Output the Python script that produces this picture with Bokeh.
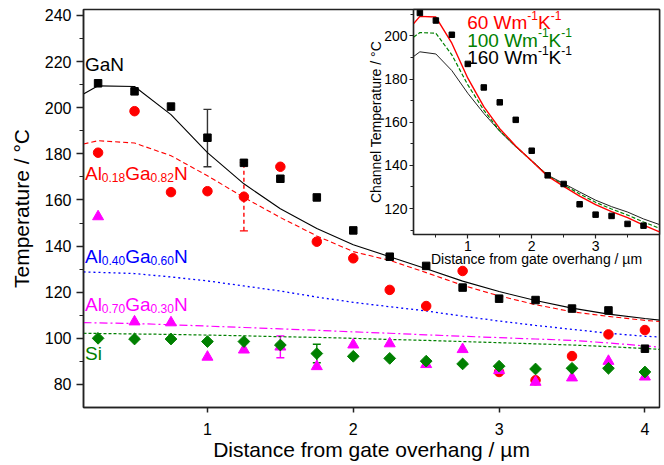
from bokeh.plotting import figure
from bokeh.models import Range1d, FixedTicker, Whisker, TeeHead, ColumnDataSource
from bokeh.embed import file_html
from bokeh.resources import INLINE
from bokeh.core.properties import value

FONT = "Liberation Sans"
RED, BLUE, MAGENTA, GREEN, BLACK = "#ff0000", "#0000ff", "#ff00ff", "#008000", "#000000"

# ---------------- data (main chart) ----------------
dist = [0.25, 0.5, 0.75, 1.0, 1.25, 1.5, 1.75, 2.0, 2.25, 2.5, 2.75, 3.0, 3.25, 3.5, 3.75, 4.0]
gan_pts = [210.6, 207.1, 200.5, 187.0, 176.1, 169.2, 161.1, 146.8, 135.4, 131.4, 122.0, 117.2, 116.6, 112.9, 112.1, 95.5]
al18_pts = [180.5, 198.5, 163.4, 163.8, 161.4, 174.4, 141.9, 134.7, 121.0, 114.0, 129.2, 85.4, 81.8, 92.3, 101.7, 103.6]
al70_pts = [152.8, 107.2, 106.8, 91.9, 95.0, 96.3, 87.8, 97.2, 97.7, 88.7, 95.2, 86.1, 81.0, 82.9, 90.1, 83.3]
si_pts = [100.0, 99.7, 99.7, 98.6, 98.6, 97.1, 93.4, 92.2, 91.3, 90.1, 88.9, 87.9, 86.7, 87.0, 87.0, 85.4]

line_x = [0.15, 0.25, 0.5, 0.75, 1.0, 1.25, 1.5, 1.75, 2.0, 2.25, 2.5, 2.75, 3.0, 3.25, 3.5, 3.75, 4.0, 4.1]
gan_line = [206.0, 209.5, 209.2, 197.0, 180.5, 167.0, 156.2, 147.6, 140.6, 135.4, 130.2, 124.8, 120.3, 116.4, 113.1, 110.5, 108.6, 107.9]
al18_line = [184.3, 185.7, 184.7, 179.2, 170.5, 161.1, 152.4, 144.4, 137.6, 133.8, 128.5, 123.0, 118.4, 114.6, 111.5, 109.5, 107.8, 107.3]
al40_line = [128.8, 128.6, 128.1, 126.6, 124.9, 122.7, 120.5, 117.9, 115.6, 113.7, 111.9, 109.6, 107.5, 105.6, 103.9, 102.2, 100.9, 100.6]
al70_line = [106.8, 106.7, 106.4, 105.9, 105.3, 104.7, 104.1, 103.5, 102.8, 102.2, 101.5, 100.9, 100.3, 99.7, 99.1, 98.0, 96.7, 96.2]
si_line = [102.2, 102.1, 101.9, 101.7, 101.4, 101.1, 100.7, 100.4, 100.0, 99.5, 99.1, 98.6, 98.1, 97.6, 97.1, 96.4, 95.6, 95.2]

gan_err_x, gan_err_lo, gan_err_hi = [1.0], [174.4], [199.3]
al18_err_x, al18_err_lo, al18_err_hi = [1.25], [146.6], [176.2]
al70_err_x, al70_err_lo, al70_err_hi = [1.5], [91.6], [101.0]
si_err_x, si_err_lo, si_err_hi = [1.75], [89.4], [97.4]

x_ticks = [1, 2, 3, 4]
y_ticks = [80, 100, 120, 140, 160, 180, 200, 220, 240]
y_minor = [90, 110, 130, 150, 170, 190, 210, 230]

# series labels: (text, is_subscript)
series_labels = [
    [("GaN", 0)],
    [("Al", 0), ("0.18", 1), ("Ga", 0), ("0.82", 1), ("N", 0)],
    [("Al", 0), ("0.40", 1), ("Ga", 0), ("0.60", 1), ("N", 0)],
    [("Al", 0), ("0.70", 1), ("Ga", 0), ("0.30", 1), ("N", 0)],
    [("Si", 0)],
]
series_label_y = [218.6, 171.5, 135.3, 114.7, 93.6]
series_label_x = 0.160
series_colors = [BLACK, RED, BLUE, MAGENTA, GREEN]

# ---------------- data (inset) ----------------
inset_x = [0.15, 0.25, 0.5, 0.75, 1.0, 1.25, 1.5, 1.75, 2.0, 2.25, 2.5, 2.75, 3.0, 3.25, 3.5, 3.75, 4.0]
k60_line = [205.6, 209.0, 208.7, 196.6, 180.4, 167.2, 157.0, 149.0, 142.0, 135.0, 130.3, 125.8, 121.8, 118.6, 115.8, 112.3, 109.2]
k100_line = [199.4, 201.5, 201.2, 191.2, 177.3, 165.6, 156.0, 148.8, 142.1, 135.2, 131.0, 126.8, 122.9, 119.8, 117.0, 113.8, 110.9]
k160_line = [190.4, 192.6, 191.6, 183.9, 173.4, 164.1, 155.8, 148.6, 142.2, 135.5, 131.6, 127.7, 123.9, 120.9, 118.4, 115.2, 112.6]
inset_n = 15
inset_x_ticks = [1, 2, 3]
inset_x_minor = [0.5, 1.5, 2.5, 3.5]
inset_y_ticks = [120, 140, 160, 180, 200]
inset_y_minor = [110, 130, 150, 170, 190, 210]

legend_texts = [
    [("60 Wm", 0), ("-1", 1), ("K", 0), ("-1", 1)],
    [("100 Wm", 0), ("-1", 1), ("K", 0), ("-1", 1)],
    [("160 Wm", 0), ("-1", 1), ("K", 0), ("-1", 1)],
]
legend_y = [206.0, 198.0, 189.9]
legend_x = 0.99
legend_colors = [RED, GREEN, BLACK]

# ---------------- helpers ----------------
WID = {' ': 278, '.': 278, '-': 333, 'A': 667, 'l': 222, 'G': 778, 'a': 556, 'N': 722,
       'S': 667, 'i': 222, 'W': 944, 'm': 833, 'K': 667}
for d in "0123456789":
    WID[d] = 556


def tw(s, size):
    return sum(WID.get(c, 556) for c in s) * size / 1000.0


def rich_rows(pieces, x, y, color, big, small, shift):
    rows = []
    off = 0.0
    for t, k in pieces:
        sz = small if k else big
        rows.append(dict(x=x, y=y, text=t, xo=off, yo=(shift if k else 0), size=f"{sz}px", color=color))
        off += tw(t, sz)
    return rows


def rows_to_source(rows):
    keys = ["x", "y", "text", "xo", "yo", "size", "color"]
    return ColumnDataSource({k: [r[k] for r in rows] for k in keys})


def style_axis(ax, tick_size, label_size):
    ax.axis_line_width = 1.5
    ax.axis_line_color = "#222222"
    ax.major_tick_line_width = 1.5
    ax.major_tick_line_color = "#222222"
    ax.minor_tick_line_width = 1.2
    ax.minor_tick_line_color = "#222222"
    ax.major_tick_in = 0
    ax.minor_tick_in = 0
    ax.major_label_text_font = FONT
    ax.major_label_text_font_size = tick_size
    ax.major_label_text_color = "black"
    ax.axis_label_text_font = FONT
    ax.axis_label_text_font_size = label_size
    ax.axis_label_text_font_style = "normal"
    ax.axis_label_text_color = "black"


# ---------------- main figure ----------------
p = figure(frame_width=576, frame_height=398, x_range=Range1d(0.15, 4.1), y_range=Range1d(70, 242.6),
           output_backend="svg", toolbar_location=None,
           min_border_left=83, min_border_right=4, min_border_top=9, min_border_bottom=56,
           background_fill_color="white", border_fill_color="white",
           outline_line_color="#222222", outline_line_width=1.5)
p.grid.visible = False

p.xaxis.ticker = FixedTicker(ticks=x_ticks, minor_ticks=[])
p.yaxis.ticker = FixedTicker(ticks=y_ticks, minor_ticks=y_minor)
p.xaxis.axis_label = "Distance from gate overhang / µm"
p.yaxis.axis_label = "Temperature / °C"
style_axis(p.xaxis[0], "16px", "21px")
style_axis(p.yaxis[0], "16px", "21px")
p.yaxis.major_tick_out = 7
p.yaxis.minor_tick_out = 4
p.yaxis.major_label_standoff = 5
p.yaxis.axis_label_standoff = 9
p.xaxis.major_tick_out = 5
p.xaxis.minor_tick_out = 0
p.xaxis.major_label_standoff = 10
p.xaxis.axis_label_standoff = 0

# model curves
p.line(line_x, gan_line, line_color=BLACK, line_width=1.1)
p.line(line_x, al18_line, line_color=RED, line_width=1.1, line_dash="5 3")
p.line(line_x, al40_line, line_color=BLUE, line_width=1.3, line_dash="2 3")
p.line(line_x, al70_line, line_color=MAGENTA, line_width=1.2, line_dash="8 3 2 3")
p.line(line_x, si_line, line_color=GREEN, line_width=1.2, line_dash="3 2")

# error bars
for ex, lo, hi, col, dash in [
    (gan_err_x, gan_err_lo, gan_err_hi, "#333333", "solid"),
    (al18_err_x, al18_err_lo, al18_err_hi, RED, "4 3"),
    (al70_err_x, al70_err_lo, al70_err_hi, MAGENTA, "solid"),
    (si_err_x, si_err_lo, si_err_hi, GREEN, "solid"),
]:
    src = ColumnDataSource(dict(x=ex, lo=lo, hi=hi))
    w = Whisker(source=src, base="x", lower="lo", upper="hi", dimension="height",
                line_color=col, line_width=1.4, line_dash=dash,
                upper_head=TeeHead(size=8, line_color=col, line_width=1.4),
                lower_head=TeeHead(size=8, line_color=col, line_width=1.4))
    p.add_layout(w)

# measured points
p.scatter(dist, al18_pts, marker="circle", size=9.5, fill_color=RED, line_color=RED)
p.scatter(dist, al70_pts, marker="triangle", size=11, fill_color=MAGENTA, line_color=MAGENTA)
p.scatter(dist, si_pts, marker="square", angle=0.785398, size=8.3, fill_color=GREEN, line_color=GREEN)
p.scatter(dist, gan_pts, marker="square", size=7.5, fill_color=BLACK, line_color=BLACK)

rows = []
for pieces, yy, col in zip(series_labels, series_label_y, series_colors):
    rows += rich_rows(pieces, series_label_x, yy, col, 19, 12, 4)
p.text(x="x", y="y", text="text", x_offset="xo", y_offset="yo", text_font_size="size",
       text_color="color", text_font=value(FONT), text_baseline="alphabetic", text_align="left",
       source=rows_to_source(rows))

# ---------------- inset figure ----------------
IN_LEFT, IN_TOP, IN_RIGHT, IN_BOTTOM = 70, 1, 2, 45
q = figure(frame_width=246, frame_height=225, x_range=Range1d(0.15, 4.0), y_range=Range1d(108, 212.2),
           output_backend="svg", toolbar_location=None,
           min_border_left=IN_LEFT, min_border_right=IN_RIGHT, min_border_top=IN_TOP, min_border_bottom=IN_BOTTOM,
           background_fill_color="white", border_fill_alpha=0.0,
           outline_line_color="#222222", outline_line_width=1.5)
q.grid.visible = False
q.xaxis.ticker = FixedTicker(ticks=inset_x_ticks, minor_ticks=inset_x_minor)
q.yaxis.ticker = FixedTicker(ticks=inset_y_ticks, minor_ticks=inset_y_minor)
q.xaxis.axis_label = "Distance from gate overhang / µm"
q.yaxis.axis_label = "Channel Temperature / °C"
style_axis(q.xaxis[0], "14px", "14px")
style_axis(q.yaxis[0], "14px", "14px")
for ax in (q.xaxis[0], q.yaxis[0]):
    ax.axis_line_width = 1.2
    ax.major_tick_line_width = 1.2
    ax.minor_tick_line_width = 1.0
    ax.major_tick_out = 4
    ax.minor_tick_out = 3
q.yaxis.major_label_standoff = 2
q.yaxis.axis_label_standoff = -3
q.xaxis.major_label_standoff = 2
q.xaxis.axis_label_standoff = -3

q.line(inset_x, k160_line, line_color="#222222", line_width=1.0)
q.line(inset_x, k100_line, line_color=GREEN, line_width=1.2, line_dash="4 2")
q.line(inset_x, k60_line, line_color=RED, line_width=1.4)
q.scatter(dist[:inset_n], gan_pts[:inset_n], marker="square", size=5.5, fill_color=BLACK, line_color=BLACK)

lrows = []
for pieces, yy, col in zip(legend_texts, legend_y, legend_colors):
    lrows += rich_rows(pieces, legend_x, yy, col, 19, 12, -7.5)
q.text(x="x", y="y", text="text", x_offset="xo", y_offset="yo", text_font_size="size",
       text_color="color", text_font=value(FONT), text_baseline="alphabetic", text_align="left",
       source=rows_to_source(lrows))

# place the inset over the upper-right corner of the main frame (page coordinates)
q.styles = {"position": "absolute", "left": f"{413 - IN_LEFT}px", "top": f"{9 - IN_TOP}px", "z-index": "5"}

open("out.html", "w").write(file_html([p, q], INLINE))
